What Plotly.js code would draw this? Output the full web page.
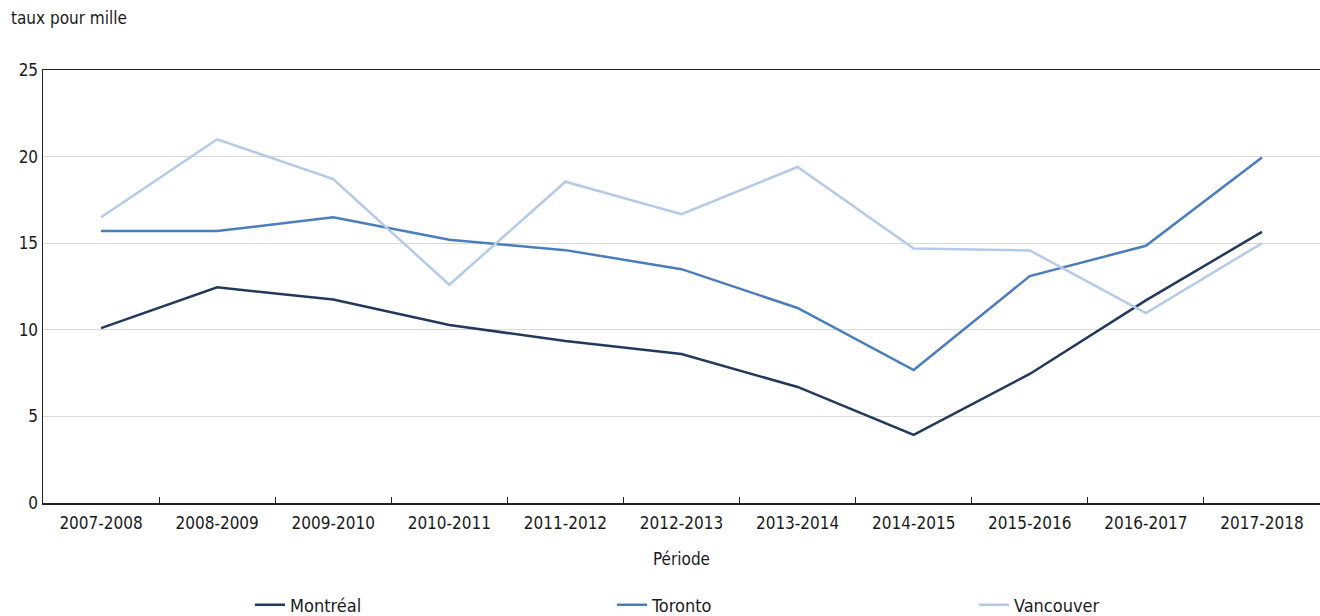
<!DOCTYPE html>
<html>
<head>
<meta charset="utf-8">
<script src="https://cdn.plot.ly/plotly-3.0.1.min.js"></script>
<style>html,body{margin:0;padding:0;background:#fff;}#chart{width:1320px;height:616px;}</style>
</head>
<body>
<div id="chart"></div>
<script>
const periods = ["2007-2008","2008-2009","2009-2010","2010-2011","2011-2012","2012-2013","2013-2014","2014-2015","2015-2016","2016-2017","2017-2018"];
const montreal = [10.1, 12.45, 11.75, 10.28, 9.35, 8.6, 6.7, 3.93, 7.45, 11.7, 15.65];
const toronto = [15.7, 15.7, 16.5, 15.2, 14.6, 13.5, 11.26, 7.68, 13.1, 14.85, 19.95];
const vancouver = [16.5, 21.0, 18.7, 12.6, 18.55, 16.68, 19.4, 14.7, 14.58, 10.97, 15.0];
const seriesNames = ["Montréal","Toronto","Vancouver"];
const colors = ["#22395b","#4a7dbc","#b5cae5"];

const FONT = "'Liberation Sans Narrow', 'DejaVu Sans Condensed', 'Arial Narrow', sans-serif";
const data = [montreal, toronto, vancouver].map((v,i)=>({
  x: periods, y: v, name: seriesNames[i], type: 'scatter', mode: 'lines',
  line: {color: colors[i], width: 2.5}
}));

const layout = {
  width: 1320, height: 616,
  margin: {l: 43, r: 0, t: 70, b: 113, autoexpand: false},
  paper_bgcolor: '#fff', plot_bgcolor: '#fff',
  font: {family: FONT, size: 17, color: '#1a1a1a'},
  showlegend: true,
  legend: {orientation: 'h', xref: 'container', yref: 'container', x: 250/1320, xanchor: 'left', y: 11/616, yanchor: 'middle',
           entrywidth: 317, entrywidthmode: 'pixels', font: {size: 18, family: FONT, color:'#1a1a1a'},
           traceorder: 'normal', bgcolor: 'rgba(0,0,0,0)'},
  xaxis: {
    type: 'category', showline: true, linecolor: '#222', linewidth: 1.5, mirror: true,
    ticks: 'inside', tickson: 'boundaries', ticklen: 6, tickcolor: '#222', tickwidth: 1,
    showgrid: false, zeroline: false, range: [-0.5, 10.5], automargin: false,
    ticklabelstandoff: 4,
    title: {text: 'Période', font: {size: 17, family: FONT}, standoff: 21},
    tickfont: {size: 17, family: FONT}
  },
  yaxis: {
    range: [0, 25], dtick: 5, showline: true, linecolor: '#222', linewidth: 1.5,
    showgrid: true, gridcolor: '#d9d9d9', gridwidth: 1, zeroline: false, automargin: false,
    ticks: '', tickfont: {size: 17, family: FONT}
  },
  annotations: [{
    text: 'taux pour mille', xref: 'paper', yref: 'paper', x: 0, y: 1, xshift: -34, yshift: 52,
    xanchor: 'left', yanchor: 'middle', showarrow: false, font: {size: 17, family: FONT, color:'#1a1a1a'}
  }]
};
Plotly.newPlot('chart', data, layout, {displayModeBar: false, staticPlot: true});
</script>
</body>
</html>
